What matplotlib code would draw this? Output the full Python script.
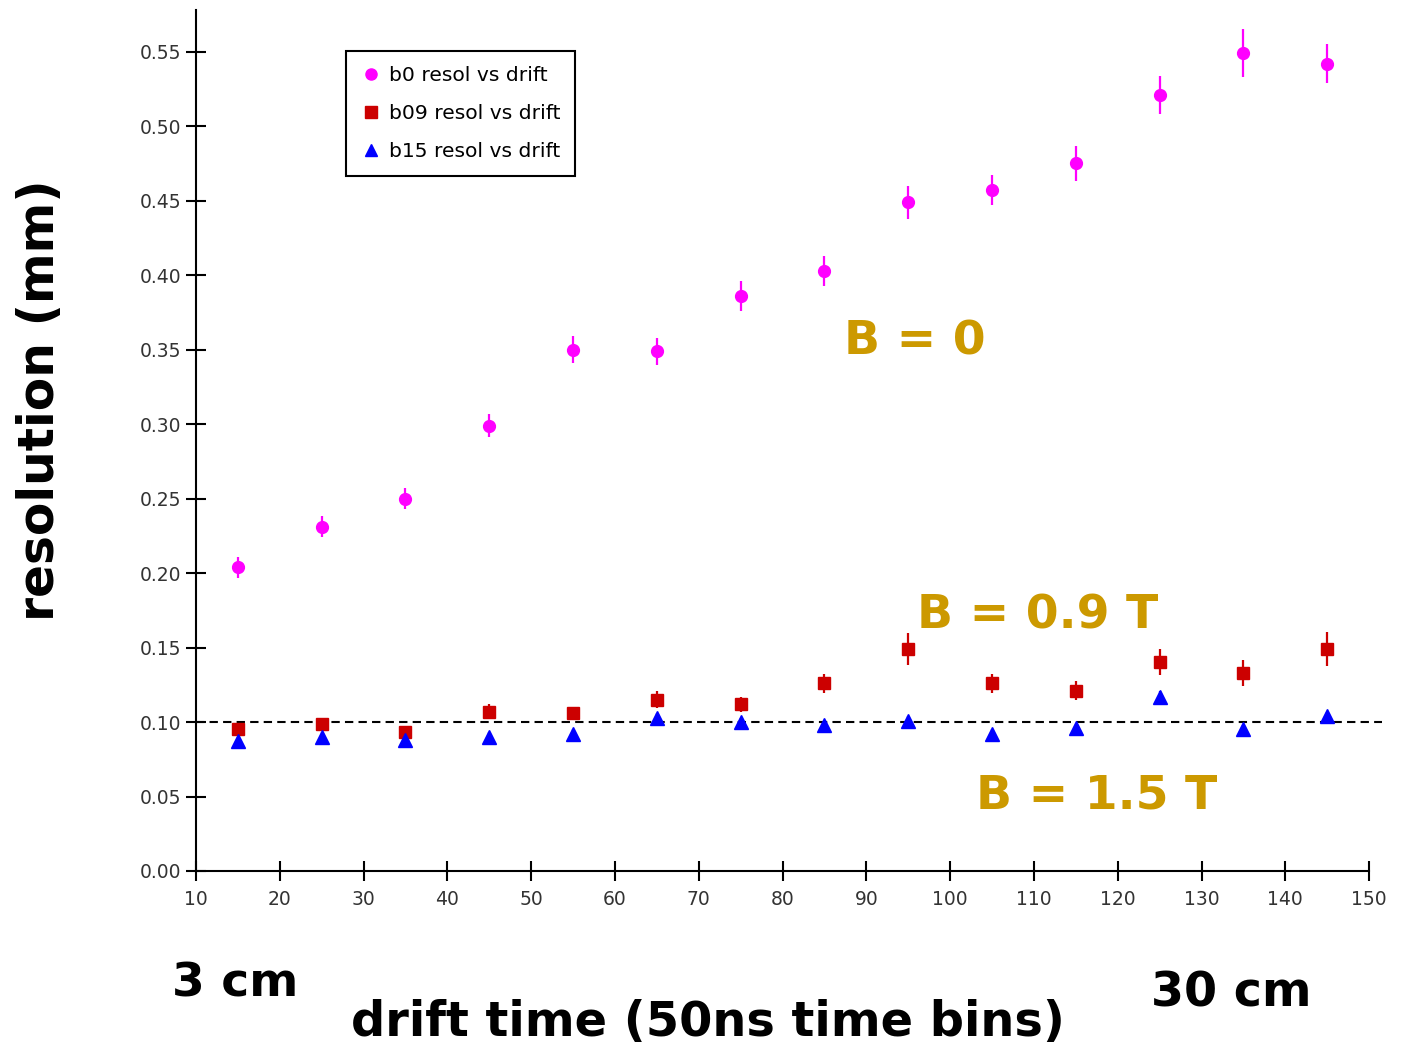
import matplotlib
matplotlib.use('Agg')
import matplotlib.pyplot as plt
from matplotlib.lines import Line2D

# drift time bins
drift = [15, 25, 35, 45, 55, 65, 75, 85, 95, 105, 115, 125, 135, 145]

# B = 0
b0_res = [0.204, 0.231, 0.250, 0.299, 0.350, 0.349, 0.386, 0.403, 0.449, 0.457, 0.475, 0.521, 0.549, 0.542]
b0_err = [0.007, 0.007, 0.007, 0.008, 0.009, 0.009, 0.010, 0.010, 0.011, 0.010, 0.012, 0.013, 0.016, 0.013]

# B = 0.9 T
b09_res = [0.095, 0.099, 0.093, 0.107, 0.106, 0.115, 0.112, 0.126, 0.149, 0.126, 0.121, 0.140, 0.133, 0.149]
b09_err = [0.004, 0.004, 0.004, 0.005, 0.004, 0.0055, 0.005, 0.0065, 0.011, 0.0065, 0.0065, 0.0087, 0.0087, 0.0114]

# B = 1.5 T
b15_res = [0.087, 0.090, 0.088, 0.090, 0.092, 0.103, 0.100, 0.098, 0.101, 0.092, 0.096, 0.117, 0.095, 0.104]
b15_err = [0.003, 0.003, 0.003, 0.003, 0.003, 0.003, 0.003, 0.003, 0.003, 0.003, 0.003, 0.004, 0.003, 0.003]

labels = ['b0 resol vs drift', 'b09 resol vs drift', 'b15 resol vs drift']
colors = ['#FF00FF', '#CC0000', '#0000FF']
markers = ['o', 's', '^']

gold = '#CC9900'

fig = plt.figure(figsize=(14.01, 10.49), dpi=100)
ax = fig.add_axes([0.1399, 0.1697, 0.8463, 0.8208])

ax.axhline(0.10, color='black', linestyle=(0, (4, 2.5)), linewidth=1.5, zorder=1)

ax.errorbar(drift, b0_res, yerr=b0_err, fmt='o', color=colors[0], markersize=8.5,
            elinewidth=1.6, capsize=0, zorder=3)
ax.errorbar(drift, b09_res, yerr=b09_err, fmt='s', color=colors[1], markersize=8,
            elinewidth=1.6, capsize=0, zorder=3)
ax.errorbar(drift, b15_res, yerr=b15_err, fmt='^', color=colors[2], markersize=10.5,
            elinewidth=1.6, capsize=0, zorder=3)

ax.set_xlim(10, 151.5)
ax.set_ylim(0, 0.578)
ax.set_xticks(range(10, 151, 10))
ax.set_yticks([i * 0.05 for i in range(12)])
ax.set_yticklabels(['%.2f' % (i * 0.05) for i in range(12)])

ax.spines['top'].set_visible(False)
ax.spines['right'].set_visible(False)
ax.spines['bottom'].set_bounds(10, 150)
for s in ['left', 'bottom']:
    ax.spines[s].set_linewidth(1.5)
ax.tick_params(direction='inout', length=15, width=1.5, labelsize=13.5,
               labelcolor='#333333')
ax.tick_params(axis='x', pad=6)
ax.tick_params(axis='y', pad=3)

# legend shows markers only
handles = [Line2D([], [], linestyle='none', marker=m, color=c, markersize=8)
           for m, c in zip(markers, colors)]
leg = ax.legend(handles, labels, loc='upper left',
                bbox_to_anchor=(346 / 1401, 1 - 51 / 1049),
                bbox_transform=fig.transFigure, borderaxespad=0, fontsize=14.6,
                fancybox=False, framealpha=1, edgecolor='black',
                labelspacing=0.95, handletextpad=0.4, handlelength=1.0,
                borderpad=0.72)
leg.get_frame().set_linewidth(1.5)

fig.text(915 / 1401, 1 - 342 / 1049, 'B = 0', color=gold, fontsize=34,
         fontweight='bold', ha='center', va='center')
fig.text(1038 / 1401, 1 - 616 / 1049, 'B = 0.9 T', color=gold, fontsize=34,
         fontweight='bold', ha='center', va='center')
fig.text(1097 / 1401, 1 - 796 / 1049, 'B = 1.5 T', color=gold, fontsize=34,
         fontweight='bold', ha='center', va='center')

fig.text(40 / 1401, 1 - 400 / 1049, 'resolution (mm)', fontsize=35,
         fontweight='bold', rotation=90, ha='center', va='center')
fig.text(708 / 1401, 1 - 1022 / 1049, 'drift time (50ns time bins)', fontsize=34.5,
         fontweight='bold', ha='center', va='center')
fig.text(235 / 1401, 1 - 984 / 1049, '3 cm', fontsize=34,
         fontweight='bold', ha='center', va='center')
fig.text(1231 / 1401, 1 - 993 / 1049, '30 cm', fontsize=34.3,
         fontweight='bold', ha='center', va='center')

fig.savefig('out.png', dpi=100)
